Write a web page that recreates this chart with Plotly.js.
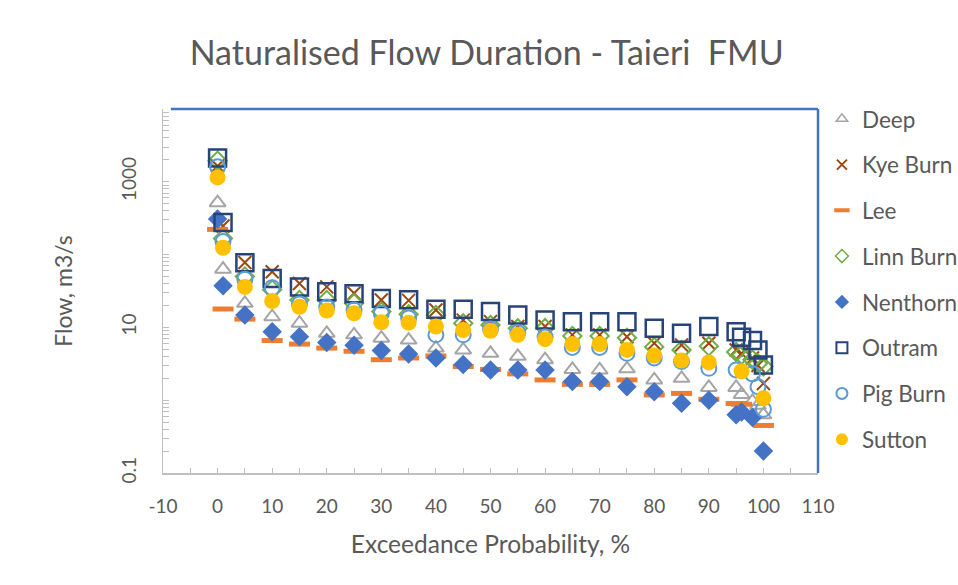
<!DOCTYPE html>
<html>
<head>
<meta charset="utf-8">
<script src="https://cdn.plot.ly/plotly-3.0.1.min.js"></script>
<style>html,body{margin:0;padding:0;background:#fff;}#chart{width:958px;height:585px;}</style>
</head>
<body>
<div id="chart"></div>
<script>
// Exceedance probability (%)
const exceedance = [0,1,5,10,15,20,25,30,35,40,45,50,55,60,65,70,75,80,85,90,95,96,98,99,100];
// Flow, m3/s per site
const deep     = [516,63,21.4,14,11.4,8.3,7.9,7.1,6.7,5.2,4.9,4.4,4.0,3.6,2.65,2.6,2.7,1.9,2.0,1.5,1.5,1.2,0.96,0.85,0.63];
const kyeBurn  = [1650,247,78,58,40,36,29.4,23.8,23.5,17.3,12.6,12.0,10.3,10.3,7.9,7.9,7.45,6.05,5.73,6.05,4.9,4.4,3.8,3.0,1.7];
const lee      = [222,17.9,13.0,6.6,5.9,5.2,4.7,3.6,3.8,4.05,2.9,2.65,2.3,1.9,1.65,1.65,1.9,1.18,1.24,1.03,0.9,0.88,null,null,0.45];
const linnBurn = [1950,167,50,33,23.8,23.8,21.4,16.5,15.1,14.8,11.4,10.8,9.7,9.8,7.6,7.6,7.2,5.4,4.9,5.5,4.6,4.2,3.6,3.2,2.9];
const nenthorn = [308,37.4,14.8,8.7,7.45,6.2,5.7,4.8,4.3,3.8,3.1,2.6,2.6,2.6,1.8,1.8,1.53,1.31,0.91,1.0,0.63,0.69,0.58,null,0.2];
const outram   = [2120,275,77,47,36,31,29,25,24,17.7,17.7,16.5,14.8,12.6,12.0,12.0,12.0,9.7,8.3,10.3,8.7,7.3,6.6,4.9,3.05];
const pigBurn  = [1610,151,46,35,21,19,17.3,15.6,13.5,7.9,7.9,9.5,8.5,7.4,5.3,5.3,4.4,3.8,3.4,2.74,2.6,null,2.3,1.53,0.75];
const sutton   = [1150,124,36,23,19.2,17,15.6,11.75,11.6,10.3,9.2,9.0,7.9,6.9,5.9,5.9,4.9,4.1,3.5,3.3,null,2.5,null,null,1.06];

const seriesNames = ["Deep","Kye Burn","Lee","Linn Burn","Nenthorn","Outram","Pig Burn","Sutton"];
const xTickVals = [-10,0,10,20,30,40,50,60,70,80,90,100,110];
const xTickText = ["-10","0","10","20","30","40","50","60","70","80","90","100","110"];
const yTickVals = [0.1,1,10,100,1000,10000];
const yTickText = ["0.1","","10","","1000",""];

const FONT = "Lato, 'Open Sans', sans-serif";
const GREY = "#595959";

const styles = [
  {data: deep,     plot:{symbol:"triangle-up-open", size:14, color:"#a5a5a5", line:{width:2, color:"#a5a5a5"}}, leg:{symbol:"triangle-up-open", size:10, color:"#a5a5a5", line:{width:1.5,color:"#a5a5a5"}}},
  {data: kyeBurn,  plot:{symbol:"x-thin-open", size:13, color:"#9e480e", line:{width:2, color:"#9e480e"}}, leg:{symbol:"x-thin-open", size:10, color:"#9e480e", line:{width:2,color:"#9e480e"}}},
  {data: lee,      plot:{symbol:"line-ew-open", size:15, color:"#ed7d31", line:{width:5, color:"#ed7d31"}}, leg:{symbol:"line-ew-open", size:11, color:"#ed7d31", line:{width:4,color:"#ed7d31"}}},
  {data: linnBurn, plot:{symbol:"diamond-open", size:14, color:"#70ad47", line:{width:2, color:"#70ad47"}}, leg:{symbol:"diamond-open", size:10, color:"#70ad47", line:{width:1.5,color:"#70ad47"}}},
  {data: nenthorn, plot:{symbol:"diamond", size:15, color:"#4472c4", line:{width:0}}, leg:{symbol:"diamond", size:11, color:"#4472c4", line:{width:0}}},
  {data: outram,   plot:{symbol:"square-open", size:17, color:"#264478", line:{width:2.5, color:"#264478"}}, leg:{symbol:"square-open", size:11, color:"#264478", line:{width:2,color:"#264478"}}},
  {data: pigBurn,  plot:{symbol:"circle-open", size:15, color:"#5b9bd5", line:{width:2, color:"#5b9bd5"}}, leg:{symbol:"circle-open", size:11, color:"#5b9bd5", line:{width:2,color:"#5b9bd5"}}},
  {data: sutton,   plot:{symbol:"circle", size:16, color:"#ffc000", line:{width:0}}, leg:{symbol:"circle", size:12, color:"#ffc000", line:{width:0}}}
];

const traces = [];
styles.forEach((s, i) => {
  traces.push({type:"scatter", mode:"markers", name:seriesNames[i], x:exceedance, y:s.data,
    marker:s.plot, showlegend:false, hoverinfo:"x+y+name"});
});
styles.forEach((s, i) => {
  traces.push({type:"scatter", mode:"markers", name:seriesNames[i], x:[null], y:[null],
    marker:s.leg, showlegend:true, legendgroup:"g"+i, legend: i < 4 ? "legend" : "legend2"});
});

const legendCommon = {x:1.006, xanchor:"left", yanchor:"top", bgcolor:"rgba(0,0,0,0)",
    font:{family:FONT, size:22.5, color:GREY}, tracegroupgap:13.5, traceorder:"grouped", itemwidth:30};

const layout = {
  width:958, height:585,
  margin:{l:163, r:140, t:109, b:112, pad:0, autoexpand:false},
  paper_bgcolor:"#ffffff", plot_bgcolor:"#ffffff",
  font:{family:FONT, color:GREY, size:18},
  title:{text:"Naturalised Flow Duration - Taieri\u00a0 FMU", font:{family:FONT, size:34, color:GREY},
         x:0.508, xanchor:"center", y:0.91, yanchor:"middle"},
  xaxis:{range:[-10,110], tickvals:xTickVals, ticktext:xTickText, showgrid:false, zeroline:false,
    showline:true, linecolor:"#bfbfbf", linewidth:1.5,
    ticks:"inside", ticklen:5, tickcolor:"#bfbfbf", tickwidth:1,
    minor:{dtick:5, tick0:0, ticks:"inside", ticklen:5, tickcolor:"#bfbfbf", showgrid:false},
    tickfont:{family:FONT, size:19, color:GREY}, ticklabelstandoff:16,
    title:{text:"Exceedance Probability, %", font:{family:FONT, size:24.5, color:GREY}, standoff:19}},
  yaxis:{type:"log", range:[-1,4], tickvals:yTickVals, ticktext:yTickText, showgrid:false, zeroline:false,
    showline:true, linecolor:"#bfbfbf", linewidth:1.5,
    ticks:"inside", ticklen:6, tickcolor:"#bfbfbf", tickwidth:1,
    minor:{dtick:"D1", ticks:"inside", ticklen:6, tickcolor:"#bfbfbf", showgrid:false},
    tickangle:-90, tickfont:{family:FONT, size:19, color:GREY}, ticklabelstandoff:18,
    title:{text:"Flow, m3/s", font:{family:FONT, size:23, color:GREY}, standoff:38}},
  legend:Object.assign({y:1.031}, legendCommon),
  legend2:Object.assign({y:0.528}, legendCommon),
  shapes:[
    {type:"line", xref:"paper", yref:"paper", x0:0.012, x1:1, y0:1, y1:1, line:{color:"#4472c4", width:2.5}},
    {type:"line", xref:"paper", yref:"paper", x0:1, x1:1, y0:0, y1:1, line:{color:"#4472c4", width:2.5}}
  ],
  showlegend:true
};

Plotly.newPlot("chart", traces, layout, {displayModeBar:false, staticPlot:true});
</script>
</body>
</html>
